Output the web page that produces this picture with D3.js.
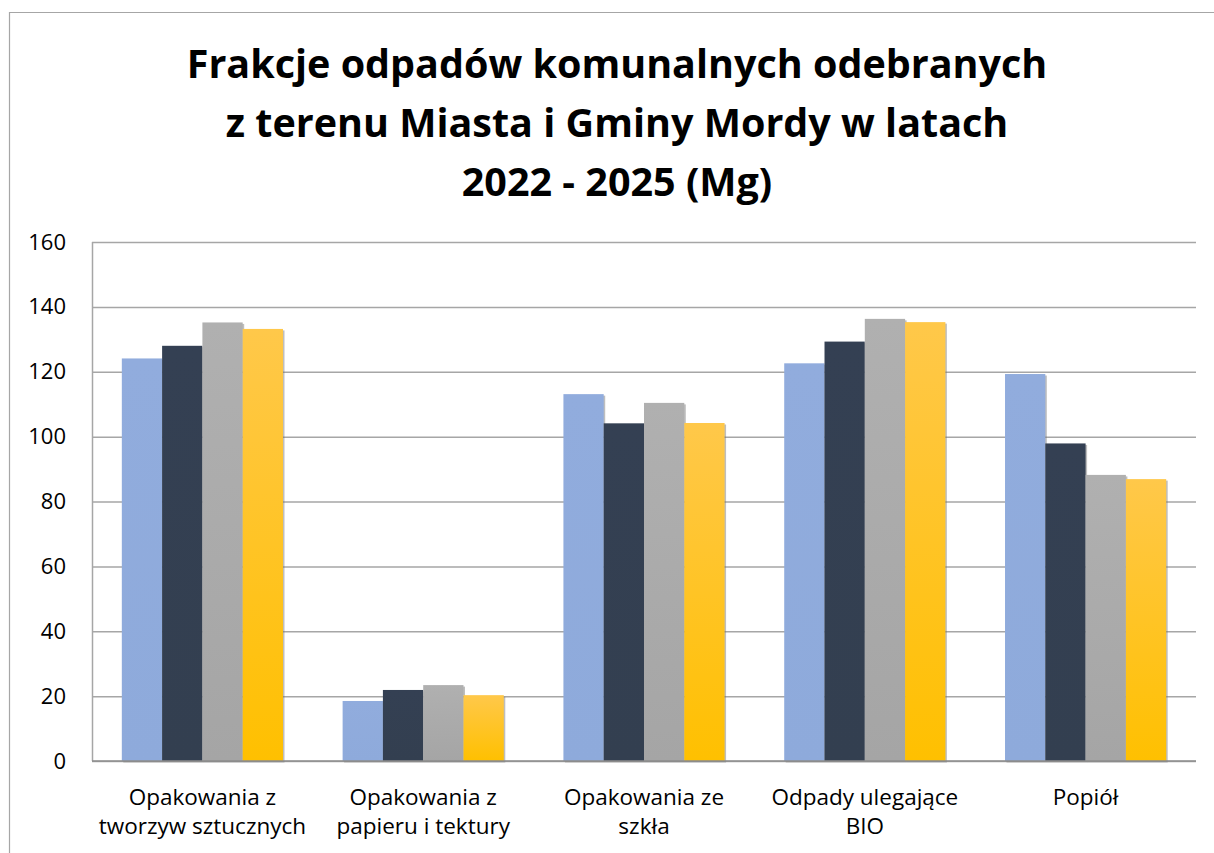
<!DOCTYPE html>
<html>
<head>
<meta charset="utf-8">
<script src="https://cdn.jsdelivr.net/npm/d3@7/dist/d3.min.js"></script>
<style>
  html, body { margin: 0; padding: 0; background: #fff; }
  #chart { width: 1214px; height: 853px; }
  text { font-family: "Open Sans", "Noto Sans", sans-serif; }
</style>
</head>
<body>
<div id="chart"></div>
<script>
// -----------------------------
// Data
// -----------------------------
const titleLines = [
  "Frakcje odpadów komunalnych odebranych",
  "z terenu Miasta i Gminy Mordy w latach",
  "2022 - 2025 (Mg)"
];

const categories = [
  ["Opakowania z", "tworzyw sztucznych"],
  ["Opakowania z", "papieru i tektury"],
  ["Opakowania ze", "szkła"],
  ["Odpady ulegające", "BIO"],
  ["Popiół"]
];

const seriesNames = ["2022", "2023", "2024", "2025"];

const values2022 = [124.1, 18.5, 113.1, 122.6, 119.3];
const values2023 = [128.0, 21.9, 104.1, 129.3, 97.9];
const values2024 = [135.2, 23.4, 110.4, 136.3, 88.2];
const values2025 = [133.2, 20.3, 104.2, 135.3, 86.9];

const yTicks = [0, 20, 40, 60, 80, 100, 120, 140, 160];

const drawChart = () => {
  const width = 1214, height = 853;
  const margin = { top: 242, right: 18, bottom: 92, left: 92 };
  const chartWidth = width - margin.left - margin.right;
  const chartHeight = height - margin.top - margin.bottom;

  const svg = d3.select("#chart").append("svg")
    .attr("width", width)
    .attr("height", height);

  // chart frame
  svg.append("path")
    .attr("d", `M9.5,${height + 5} V12.5 H${width + 5}`)
    .attr("fill", "none")
    .attr("stroke", "#a6a6a6")
    .attr("stroke-width", 1.2);

  const allSeries = [values2022, values2023, values2024, values2025];
  const rows = [];
  categories.forEach((c, i) => {
    seriesNames.forEach((s, j) => {
      rows.push({ cat: i, series: s, value: allSeries[j][i] });
    });
  });

  // -----------------------------
  // Scales
  // -----------------------------
  const x0 = d3.scaleBand()
    .domain(d3.range(categories.length))
    .range([0, chartWidth])
    .padding(0);

  const x1 = d3.scaleBand()
    .domain(seriesNames)
    .range([0, x0.bandwidth()])
    .paddingInner(0)
    .paddingOuter(0.74);

  const y = d3.scaleLinear()
    .domain([0, 160])
    .range([chartHeight, 0]);

  const topColors = { "2022": "#91acdd", "2023": "#344053", "2024": "#b0b0b0", "2025": "#ffc84a" };
  const botColors = { "2022": "#8eaadb", "2023": "#333f50", "2024": "#a5a5a5", "2025": "#ffc000" };

  const defs = svg.append("defs");
  seriesNames.forEach(s => {
    const g = defs.append("linearGradient")
      .attr("id", "grad" + s)
      .attr("x1", 0).attr("y1", 0).attr("x2", 0).attr("y2", 1);
    g.append("stop").attr("offset", "0%").attr("stop-color", topColors[s]);
    g.append("stop").attr("offset", "100%").attr("stop-color", botColors[s]);
  });

  const inner = svg.append("g")
    .attr("transform", `translate(${margin.left},${margin.top})`);

  // -----------------------------
  // Grid + axes
  // -----------------------------
  const yAxis = inner.append("g")
    .call(d3.axisLeft(y).tickValues(yTicks).tickSize(-chartWidth).tickPadding(26));
  yAxis.select(".domain").remove();
  yAxis.selectAll(".tick line")
    .attr("stroke", "#a6a6a6")
    .attr("stroke-width", 1.5);
  yAxis.selectAll(".tick text")
    .attr("fill", "#000")
    .style("font-size", "22px")
    .style("font-family", "'Open Sans', sans-serif");

  inner.append("line")
    .attr("x1", 0.5).attr("x2", 0.5)
    .attr("y1", 0).attr("y2", chartHeight)
    .attr("stroke", "#a6a6a6")
    .attr("stroke-width", 1.5);

  // -----------------------------
  // Bars
  // -----------------------------
  const groups = inner.selectAll(".cat")
    .data(d3.group(rows, d => d.cat))
    .join("g")
    .attr("transform", d => `translate(${x0(d[0])},0)`);

  // soft shadow
  groups.selectAll(".shadow")
    .data(d => d[1])
    .join("rect")
    .attr("x", d => x1(d.series) + 1.5)
    .attr("y", d => y(d.value) + 1.5)
    .attr("width", x1.bandwidth())
    .attr("height", d => chartHeight - y(d.value))
    .attr("fill", "#6f6f6f")
    .attr("opacity", 0.45);

  groups.selectAll(".bar")
    .data(d => d[1])
    .join("rect")
    .attr("class", "bar")
    .attr("x", d => x1(d.series))
    .attr("y", d => y(d.value))
    .attr("width", x1.bandwidth())
    .attr("height", d => chartHeight - y(d.value))
    .attr("fill", d => `url(#grad${d.series})`);

  // bottom axis line
  inner.append("line")
    .attr("x1", 0).attr("x2", chartWidth)
    .attr("y1", chartHeight).attr("y2", chartHeight)
    .attr("stroke", "#8c8c8c")
    .attr("stroke-width", 1.5);

  // category labels
  const labels = inner.selectAll(".xlabel")
    .data(categories)
    .join("text")
    .attr("text-anchor", "middle")
    .attr("fill", "#000")
    .style("font-size", "22.5px")
    .attr("transform", (d, i) => `translate(${x0(i) + x0.bandwidth() / 2},${chartHeight + 44})`);

  labels.selectAll("tspan")
    .data(d => d)
    .join("tspan")
    .attr("x", 0)
    .attr("dy", (d, i) => i === 0 ? 0 : 29)
    .text(d => d);

  // -----------------------------
  // Title
  // -----------------------------
  const title = svg.append("text")
    .attr("text-anchor", "middle")
    .attr("fill", "#000")
    .style("font-weight", "bold")
    .style("font-size", "39.5px");

  title.selectAll("tspan")
    .data(titleLines)
    .join("tspan")
    .attr("x", 617)
    .attr("y", (d, i) => 78 + i * 59)
    .text(d => d);
};

drawChart();
</script>
</body>
</html>
